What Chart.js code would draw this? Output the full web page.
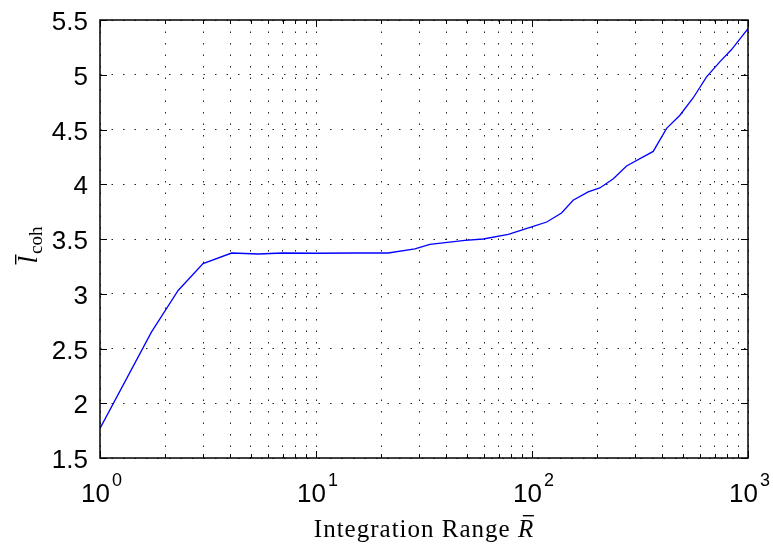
<!DOCTYPE html>
<html>
<head>
<meta charset="utf-8">
<script src="https://cdn.jsdelivr.net/npm/chart.js@4"></script>
<style>
  html, body { margin: 0; padding: 0; background: #fff; }
  #wrap { width: 773px; height: 544px; }
</style>
</head>
<body>
<div id="wrap"><canvas id="chart" width="773" height="544"></canvas></div>
<script>
// integration range R (log axis) and the mean coherence length
const rangeValues = [1, 1.73, 2.3, 3.0, 4.07, 5.4, 7.0, 10, 15, 21.6, 28.7, 33.7, 39.6, 48.9, 59.5, 77.7, 99.6, 117, 137, 155, 182, 206, 238, 274, 364, 420, 484, 558, 643, 742, 839, 1000];
const lcohValues = [1.77, 2.65, 3.03, 3.275, 3.372, 3.363, 3.372, 3.37, 3.372, 3.372, 3.41, 3.45, 3.467, 3.488, 3.50, 3.543, 3.61, 3.655, 3.738, 3.854, 3.93, 3.966, 4.05, 4.167, 4.30, 4.51, 4.63, 4.79, 4.98, 5.12, 5.23, 5.42];

// tick positions
const xDecades = [1, 10, 100, 1000];
const xDecadeExp = ["0", "1", "2", "3"];
const xMinorTicks = [2, 3, 4, 5, 6, 7, 8, 9, 20, 30, 40, 50, 60, 70, 80, 90, 200, 300, 400, 500, 600, 700, 800, 900];
const yTicks = [1.5, 2, 2.5, 3, 3.5, 4, 4.5, 5, 5.5];
const yTickLabels = ["1.5", "2", "2.5", "3", "3.5", "4", "4.5", "5", "5.5"];

const points = rangeValues.map((r, i) => ({ x: r, y: lcohValues[i] }));

const SANS = "'Liberation Sans', Arial, sans-serif";
const SERIF = "'Liberation Serif', 'DejaVu Serif', serif";

// axes labels, box and inward ticks like MATLAB
const matlabAxes = {
  id: "matlabAxes",
  afterDraw(chart) {
    const ctx = chart.ctx;
    const area = chart.chartArea;
    const xs = chart.scales.x;
    const ys = chart.scales.y;
    ctx.save();

    // box
    ctx.strokeStyle = "#000";
    ctx.lineWidth = 1.5;
    ctx.strokeRect(area.left, area.top, area.right - area.left, area.bottom - area.top);

    // tick marks
    ctx.lineWidth = 1;
    ctx.beginPath();
    xDecades.concat(xMinorTicks).forEach((v) => {
      const px = Math.round(xs.getPixelForValue(v)) + 0.5;
      const len = xDecades.includes(v) ? 7 : 4;
      ctx.moveTo(px, area.bottom);
      ctx.lineTo(px, area.bottom - len);
      ctx.moveTo(px, area.top);
      ctx.lineTo(px, area.top + len);
    });
    yTicks.forEach((v) => {
      const py = Math.round(ys.getPixelForValue(v)) + 0.5;
      ctx.moveTo(area.left, py);
      ctx.lineTo(area.left + 7, py);
      ctx.moveTo(area.right, py);
      ctx.lineTo(area.right - 7, py);
    });
    ctx.stroke();

    // y tick labels
    ctx.fillStyle = "#000";
    ctx.font = "26px " + SANS;
    ctx.textAlign = "right";
    ctx.textBaseline = "alphabetic";
    yTicks.forEach((v, i) => {
      ctx.fillText(yTickLabels[i], area.left - 12, ys.getPixelForValue(v) + 10);
    });

    // x tick labels 10^n
    xDecades.forEach((v, i) => {
      const px = xs.getPixelForValue(v);
      ctx.font = "26px " + SANS;
      ctx.textAlign = "right";
      ctx.fillText("10", px + 10, area.bottom + 44);
      ctx.font = "18px " + SANS;
      ctx.textAlign = "left";
      ctx.fillText(xDecadeExp[i], px + 12, area.bottom + 28);
    });

    // x axis title: Integration Range R-bar
    ctx.letterSpacing = "1px";
    ctx.font = "25px " + SERIF;
    const t1 = "Integration Range ";
    const w1 = ctx.measureText(t1).width;
    ctx.font = "italic 25px " + SERIF;
    const w2 = ctx.measureText("R").width;
    const cx = (area.left + area.right) / 2;
    const x0 = cx - (w1 + w2) / 2;
    const by = area.bottom + 79;
    ctx.textAlign = "left";
    ctx.font = "25px " + SERIF;
    ctx.fillText(t1, x0, by);
    ctx.font = "italic 25px " + SERIF;
    ctx.fillText("R", x0 + w1, by);
    ctx.fillRect(x0 + w1 + 5, by - 22, 11, 1.4);
    ctx.letterSpacing = "0px";

    // y axis title: l-bar with subscript coh, rotated
    ctx.translate(37, (area.top + area.bottom) / 2 + 6);
    ctx.rotate(-Math.PI / 2);
    ctx.font = "italic 27px " + SERIF;
    const wl = ctx.measureText("l").width;
    ctx.font = "19px " + SERIF;
    const ws = ctx.measureText("coh").width;
    const sx = -(wl + ws + 2) / 2;
    ctx.font = "italic 27px " + SERIF;
    ctx.fillText("l", sx, 0);
    ctx.fillRect(sx - 1, -22, 10, 1.4);
    ctx.font = "19px " + SERIF;
    ctx.fillText("coh", sx + wl + 2, 5);

    ctx.restore();
  },
};

new Chart(document.getElementById("chart"), {
  type: "line",
  data: {
    datasets: [
      {
        data: points,
        borderColor: "#0000ff",
        borderWidth: 1.3,
        pointRadius: 0,
        tension: 0,
        fill: false,
      },
    ],
  },
  options: {
    responsive: false,
    animation: false,
    layout: { padding: { left: 100, right: 25, top: 20, bottom: 86 } },
    plugins: { legend: { display: false }, tooltip: { enabled: false } },
    scales: {
      x: {
        type: "logarithmic",
        min: 1,
        max: 1000,
        afterBuildTicks: (scale) => {
          scale.ticks = xDecades.concat(xMinorTicks).sort((a, b) => a - b).map((v) => ({ value: v }));
        },
        ticks: { display: false },
        grid: { color: "#222", lineWidth: 1, drawTicks: false },
        border: { display: false, dash: [1.5, 10] },
      },
      y: {
        type: "linear",
        min: 1.5,
        max: 5.5,
        afterBuildTicks: (scale) => {
          scale.ticks = yTicks.map((v) => ({ value: v }));
        },
        ticks: { display: false },
        grid: { color: "#222", lineWidth: 1, drawTicks: false },
        border: { display: false, dash: [1.5, 10] },
      },
    },
  },
  plugins: [matlabAxes],
});
</script>
</body>
</html>
